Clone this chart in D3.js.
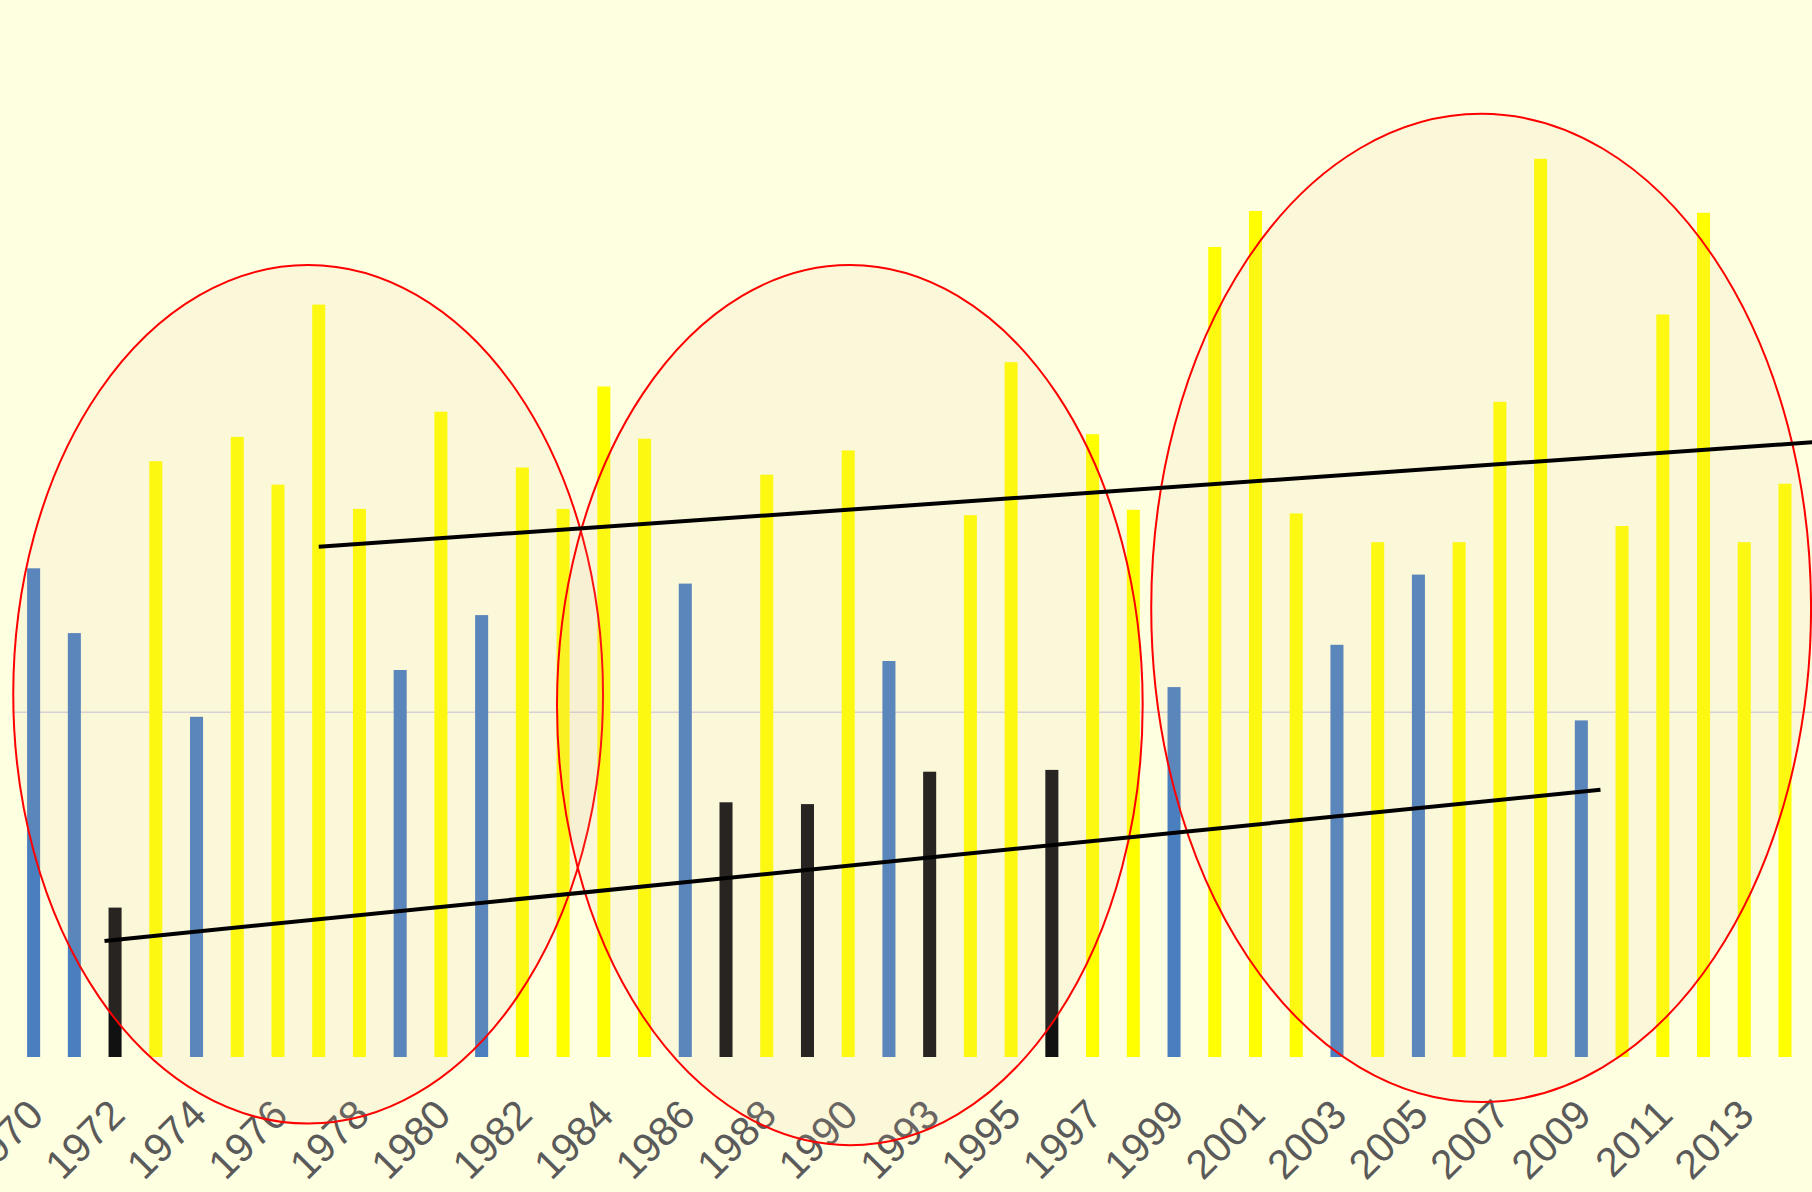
<!DOCTYPE html>
<html>
<head>
<meta charset="utf-8">
<script src="https://cdn.jsdelivr.net/npm/d3@7"></script>
<style>
  body { margin: 0; background: #fefee0; }
  svg { display: block; }
</style>
</head>
<body>
<script>
// years on the axis (1992 is not in the series)
const years = [1970, 1971, 1972, 1973, 1974, 1975, 1976, 1977, 1978, 1979,
               1980, 1981, 1982, 1983, 1984, 1985, 1986, 1987, 1988, 1989,
               1990, 1991, 1993, 1994, 1995, 1996, 1997, 1998, 1999, 2000,
               2001, 2002, 2003, 2004, 2005, 2006, 2007, 2008, 2009, 2010,
               2011, 2012, 2013, 2014];

// bar heights (no axis in the picture, read as 0-100)
const values = [54.3, 47.1, 16.6, 66.2, 37.8, 68.9, 63.6, 83.6, 60.9, 43.0,
                71.7, 49.1, 65.5, 60.9, 74.5, 68.7, 52.6, 28.3, 64.7, 28.1,
                67.4, 44.0, 31.7, 60.2, 77.2, 31.9, 69.2, 60.8, 41.1, 90.0,
                94.0, 60.4, 45.8, 57.2, 53.6, 57.2, 72.8, 99.8, 37.4, 59.0,
                82.5, 93.8, 57.2, 63.7];

// B = blue, K = black, Y = yellow
const types = ['B', 'B', 'K', 'Y', 'B', 'Y', 'Y', 'Y', 'Y', 'B',
               'Y', 'B', 'Y', 'Y', 'Y', 'Y', 'B', 'K', 'Y', 'K',
               'Y', 'B', 'K', 'Y', 'Y', 'K', 'Y', 'Y', 'B', 'Y',
               'Y', 'Y', 'B', 'Y', 'B', 'Y', 'Y', 'Y', 'B', 'Y',
               'Y', 'Y', 'Y', 'Y'];

const tickYears = [1970, 1972, 1974, 1976, 1978, 1980, 1982, 1984, 1986, 1988,
                   1990, 1993, 1995, 1997, 1999, 2001, 2003, 2005, 2007, 2009,
                   2011, 2013];

// trend lines, as [bar index, value]
const upperTrend = [[7, 56.7], [44, 68.4]];
const lowerTrend = [[1.74, 12.9], [38.47, 29.7]];

// circled groups: centre index, centre value, half width (bars), half height (value)
const groupCenterIdx = [6.74, 20.04, 35.54];
const groupCenterVal = [40.3, 39.1, 49.9];
const groupHalfIdx = [7.24, 7.19, 8.10];
const groupHalfVal = [47.7, 48.9, 54.9];

const refLevel = 38.3;

var width = 1812, height = 1192;

var svg = d3.select("body").append("svg")
    .attr("width", width)
    .attr("height", height);

svg.append("rect")
    .attr("width", width)
    .attr("height", height)
    .attr("fill", "#fefee0");

const x = d3.scaleBand()
    .domain(years)
    .range([27.1, 1791.5])
    .paddingInner(0.68)
    .paddingOuter(0);

const y = d3.scaleLinear()
    .domain([0, 100])
    .range([1057, 157]);

// bar index -> bar centre, for the lines and ellipses
const xi = d3.scaleLinear()
    .domain([0, years.length - 1])
    .range([x(years[0]) + x.bandwidth() / 2, x(years[years.length - 1]) + x.bandwidth() / 2]);

const color = d3.scaleOrdinal()
    .domain(['B', 'K', 'Y'])
    .range(['#4a7fbf', '#111111', '#ffff00']);

// faint level line behind the bars
svg.append("line")
    .attr("x1", 14)
    .attr("x2", width)
    .attr("y1", y(refLevel))
    .attr("y2", y(refLevel))
    .attr("stroke", "#d4d4dc")
    .attr("stroke-width", 1.5);

svg.append("g")
    .selectAll("rect")
    .data(years)
    .join("rect")
    .attr("x", d => x(d))
    .attr("y", (d, i) => y(values[i]))
    .attr("width", x.bandwidth())
    .attr("height", (d, i) => y(0) - y(values[i]))
    .attr("fill", (d, i) => color(types[i]));

// x axis, every other year
const xAxis = d3.axisBottom(x)
    .tickValues(tickYears)
    .tickSize(0);

const ax = svg.append("g")
    .attr("transform", "translate(0,1117)")
    .call(xAxis);

ax.select(".domain").remove();

ax.selectAll("text")
    .attr("x", 0)
    .attr("y", 0)
    .attr("dy", 0)
    .attr("transform", "translate(12,0) rotate(-45)")
    .style("text-anchor", "end")
    .attr("fill", "#5a5a5a")
    .attr("font-family", "Liberation Sans, Arial, sans-serif")
    .attr("font-size", 41);

// ellipses round the three groups
svg.append("g")
    .selectAll("ellipse")
    .data(groupCenterIdx)
    .join("ellipse")
    .attr("cx", d => xi(d))
    .attr("cy", (d, i) => y(groupCenterVal[i]))
    .attr("rx", (d, i) => xi(d + groupHalfIdx[i]) - xi(d))
    .attr("ry", (d, i) => y(groupCenterVal[i] - groupHalfVal[i]) - y(groupCenterVal[i]))
    .attr("fill", "rgb(224,189,160)")
    .attr("fill-opacity", 0.11)
    .attr("stroke", "#ff0000")
    .attr("stroke-width", 2);

const line = d3.line()
    .x(d => xi(d[0]))
    .y(d => y(d[1]));

svg.append("path")
    .attr("d", line(upperTrend))
    .attr("fill", "none")
    .attr("stroke", "#000")
    .attr("stroke-width", 4);

svg.append("path")
    .attr("d", line(lowerTrend))
    .attr("fill", "none")
    .attr("stroke", "#000")
    .attr("stroke-width", 4);
</script>
</body>
</html>
